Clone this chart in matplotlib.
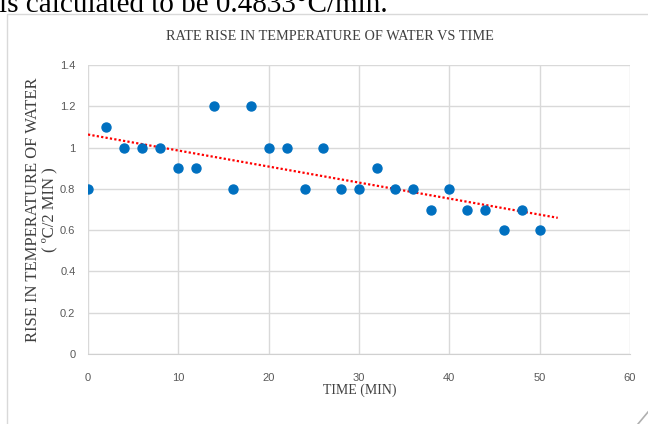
import matplotlib.pyplot as plt
import numpy as np
from matplotlib.patches import Rectangle
from matplotlib.lines import Line2D

# data
time_min = [0, 2, 4, 6, 8, 10, 12, 14, 16, 18, 20, 22, 24, 26, 28, 30,
            32, 34, 36, 38, 40, 42, 44, 46, 48, 50]
rise = [0.8, 1.1, 1.0, 1.0, 1.0, 0.9, 0.9, 1.2, 0.8, 1.2, 1.0, 1.0, 0.8,
        1.0, 0.8, 0.8, 0.9, 0.8, 0.8, 0.7, 0.8, 0.7, 0.7, 0.6, 0.7, 0.6]
x_ticks = [0, 10, 20, 30, 40, 50, 60]
y_ticks = [0, 0.2, 0.4, 0.6, 0.8, 1, 1.2, 1.4]
y_tick_labels = ['0', '0.2', '0.4', '0.6', '0.8', '1', '1.2', '1.4']

serif = 'Liberation Serif'
sans = 'Liberation Sans'
tick_grey = '#595959'
label_grey = '#404040'

fig = plt.figure(figsize=(6.48, 4.24), dpi=100)

# page text above the chart, cut off at the top
fig.text(-0.002, 1 - 12 / 424, 'is calculated to be 0.4833\u00b0C/min.',
         family=serif, fontsize=21, color='black', va='baseline', ha='left')

# chart frame and resize corner
fig.patches.append(Rectangle((7 / 648, -0.05), 0.99, 1 - 14 / 424 + 0.05,
                             transform=fig.transFigure, fill=False,
                             edgecolor='#d9d9d9', linewidth=1))
fig.lines.append(Line2D([638 / 648, 648 / 648], [0, 12 / 424],
                        transform=fig.transFigure, color='#b0b0b0',
                        linewidth=1.2))

ax = fig.add_axes([88 / 648, 1 - 354 / 424, 542 / 648, 289 / 424])

ax.scatter(time_min, rise, s=42, color='#0070C0', zorder=3)

# linear trendline
slope, icpt = np.polyfit(time_min, rise, 1)
tx = np.array([0, 52])
ax.plot(tx, slope * tx + icpt, color='#FF0000', linestyle=(0, (1, 1)),
        linewidth=1.6, zorder=2)

ax.set_xlim(0, 60)
ax.set_ylim(0, 1.4)
ax.set_xticks(x_ticks)
ax.set_yticks(y_ticks)
ax.set_yticklabels(y_tick_labels)
ax.grid(True, color='#d9d9d9', linewidth=1)
ax.set_axisbelow(True)
for s in ['top', 'right', 'left']:
    ax.spines[s].set_visible(False)
ax.spines['bottom'].set_color('#d0d0d0')
ax.tick_params(axis='y', length=0, labelsize=8, colors=tick_grey, pad=9)
ax.tick_params(axis='x', length=0, labelsize=8, colors=tick_grey, pad=14)
for lab in ax.get_xticklabels() + ax.get_yticklabels():
    lab.set_family(sans)

fig.text(330 / 648, 1 - 36 / 424, 'RATE RISE IN TEMPERATURE OF WATER VS TIME',
         family=serif, fontsize=10.3, color=label_grey, ha='center',
         va='center')
fig.text(360 / 648, 1 - 390 / 424, 'TIME (MIN)', family=serif, fontsize=10,
         color=label_grey, ha='center', va='center')
fig.text(41 / 648, 1 - 210 / 424,
         'RISE IN TEMPERATURE OF WATER\n( \u00baC/2 MIN )', family=serif,
         fontsize=12, color=label_grey, rotation=90, ha='center', va='center',
         multialignment='center', linespacing=1.05)

plt.savefig('out.png', dpi=100)
